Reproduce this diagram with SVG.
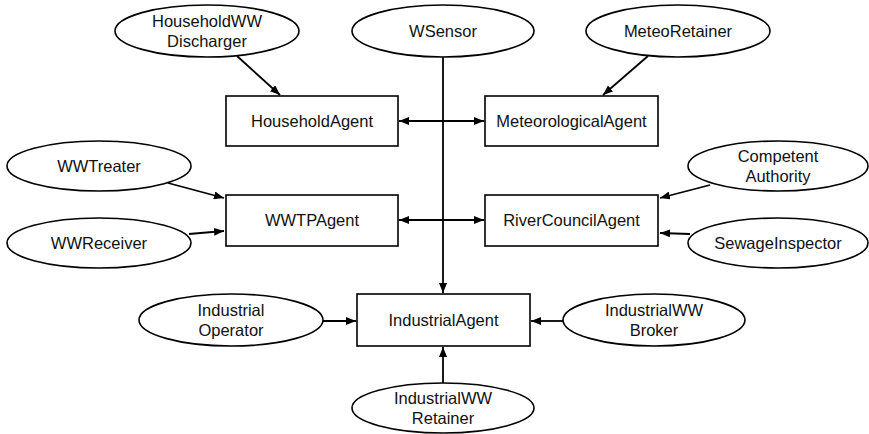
<svg xmlns="http://www.w3.org/2000/svg" width="869" height="434" viewBox="0 0 869 434">
  <defs>
    <marker id="arrow" viewBox="0 0 10 8" refX="10" refY="4" markerWidth="10" markerHeight="8" markerUnits="userSpaceOnUse" orient="auto-start-reverse">
      <path d="M0,0 L10,4 L0,8 z" fill="#000"/>
    </marker>
  </defs>
  <style>
    .bg { fill: #fff; }
    ellipse, rect.agent { fill: #fff; stroke: #000; stroke-width: 1.6; }
    text { font-family: "Liberation Sans", Arial, Helvetica, sans-serif; font-size: 16.5px; fill: #111; text-anchor: middle; }
    #connectors line { stroke: #000; stroke-width: 1.8; fill: none; }
    .one { marker-end: url(#arrow); }
    .both { marker-start: url(#arrow); marker-end: url(#arrow); }
  </style>
  <rect class="bg" x="0" y="0" width="869" height="434"/>

  <!-- connectors -->
  <g id="connectors">
    <line class="one" x1="443" y1="57" x2="443" y2="293"/>
    <line class="both" x1="399" y1="121" x2="484" y2="121"/>
    <line class="both" x1="399" y1="220" x2="484" y2="220"/>
    <line class="one" x1="237" y1="56" x2="280" y2="95"/>
    <line class="one" x1="648" y1="56" x2="603" y2="95"/>
    <line class="one" x1="168" y1="183" x2="224" y2="198"/>
    <line class="one" x1="189" y1="234" x2="224" y2="231"/>
    <line class="one" x1="710" y1="185" x2="660" y2="198"/>
    <line class="one" x1="690" y1="234" x2="660" y2="233"/>
    <line class="one" x1="323" y1="321" x2="356" y2="321"/>
    <line class="one" x1="563" y1="321" x2="531" y2="321"/>
    <line class="one" x1="443" y1="383" x2="443" y2="347"/>
  </g>

  <!-- agents -->
  <g id="HouseholdAgent">
    <rect class="agent" x="226" y="96" width="172" height="50"/>
    <text x="312" y="127">HouseholdAgent</text>
  </g>
  <g id="MeteorologicalAgent">
    <rect class="agent" x="485" y="96" width="173" height="50"/>
    <text x="571.5" y="127">MeteorologicalAgent</text>
  </g>
  <g id="WWTPAgent">
    <rect class="agent" x="226" y="195" width="172" height="51"/>
    <text x="312" y="226">WWTPAgent</text>
  </g>
  <g id="RiverCouncilAgent">
    <rect class="agent" x="485" y="195" width="173" height="51"/>
    <text x="571.5" y="226">RiverCouncilAgent</text>
  </g>
  <g id="IndustrialAgent">
    <rect class="agent" x="357" y="294" width="173" height="52"/>
    <text x="443.5" y="326">IndustrialAgent</text>
  </g>

  <!-- roles -->
  <g id="HouseholdWWDischarger">
    <ellipse cx="207" cy="31" rx="92" ry="26"/>
    <text x="207" y="27">HouseholdWW</text>
    <text x="207" y="47">Discharger</text>
  </g>
  <g id="WSensor">
    <ellipse cx="443" cy="31" rx="91" ry="26"/>
    <text x="443" y="37">WSensor</text>
  </g>
  <g id="MeteoRetainer">
    <ellipse cx="678" cy="31" rx="92" ry="26"/>
    <text x="678" y="37">MeteoRetainer</text>
  </g>
  <g id="WWTreater">
    <ellipse cx="99" cy="166" rx="92" ry="25"/>
    <text x="99" y="172">WWTreater</text>
  </g>
  <g id="WWReceiver">
    <ellipse cx="99" cy="243" rx="92" ry="25"/>
    <text x="99" y="249">WWReceiver</text>
  </g>
  <g id="CompetentAuthority">
    <ellipse cx="778" cy="166" rx="90" ry="25"/>
    <text x="778" y="162">Competent</text>
    <text x="778" y="182">Authority</text>
  </g>
  <g id="SewageInspector">
    <ellipse cx="778" cy="243" rx="90" ry="25"/>
    <text x="778" y="249">SewageInspector</text>
  </g>
  <g id="IndustrialOperator">
    <ellipse cx="231" cy="320" rx="92" ry="26"/>
    <text x="231" y="316">Industrial</text>
    <text x="231" y="336">Operator</text>
  </g>
  <g id="IndustrialWWBroker">
    <ellipse cx="654" cy="320" rx="91" ry="26"/>
    <text x="654" y="316">IndustrialWW</text>
    <text x="654" y="336">Broker</text>
  </g>
  <g id="IndustrialWWRetainer">
    <ellipse cx="443" cy="408" rx="91" ry="25"/>
    <text x="443" y="404">IndustrialWW</text>
    <text x="443" y="424">Retainer</text>
  </g>
</svg>
